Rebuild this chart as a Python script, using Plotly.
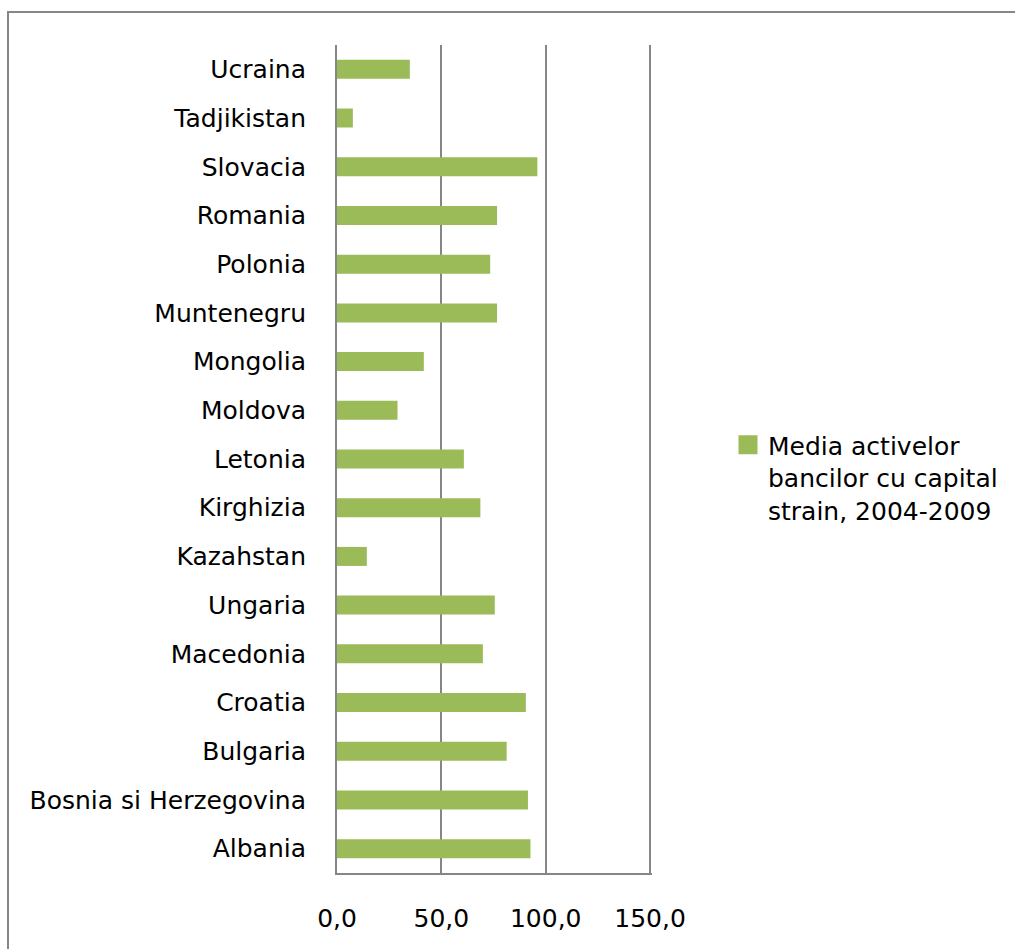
import plotly.graph_objects as go

categories = ["Albania", "Bosnia si Herzegovina", "Bulgaria", "Croatia", "Macedonia",
              "Ungaria", "Kazahstan", "Kirghizia", "Letonia", "Moldova", "Mongolia",
              "Muntenegru", "Polonia", "Romania", "Slovacia", "Tadjikistan", "Ucraina"]
values = [92.7, 91.5, 81.3, 90.5, 69.9, 75.6, 14.3, 68.7, 60.8, 29.0, 41.6,
          76.7, 73.4, 76.7, 96.0, 7.6, 34.9]
series_name = "Media activelor<br>bancilor cu capital<br>strain, 2004-2009"
x_ticks = [0, 50, 100, 150]

W, H = 1015, 949
GREEN = "#9BBB59"
GREY = "#868686"
FONT = dict(family="DejaVu Sans", size=25, color="black")

fig = go.Figure()
fig.add_trace(go.Bar(x=values, y=categories, orientation="h",
                     marker=dict(color=GREEN, line=dict(width=0)),
                     showlegend=False, name=series_name))
fig.add_trace(go.Scatter(x=[None], y=[None], mode="markers", name=series_name,
                         marker=dict(symbol="square", size=16, color=GREEN,
                                     line=dict(color=GREEN, width=3)),
                         showlegend=True))

fig.update_layout(
    width=W, height=H,
    margin=dict(l=0, r=0, t=0, b=0),
    paper_bgcolor="white", plot_bgcolor="white",
    font=FONT,
    separators=",.",
    bargap=0.61,
    showlegend=True,
    legend=dict(x=728 / W, xanchor="left", y=1 - 422 / H, yanchor="top",
                valign="top", font=FONT, itemsizing="trace",
                bgcolor="rgba(0,0,0,0)", borderwidth=0),
    xaxis=dict(domain=[337 / W, 651.5 / W], range=[0, 150.7], tickvals=x_ticks,
               tickformat=".1f", showgrid=True, gridcolor=GREY, gridwidth=2,
               zeroline=False, showline=True, linecolor=GREY, linewidth=2,
               ticks="outside", ticklen=22, tickcolor="rgba(0,0,0,0)",
               tickfont=FONT, automargin=False, fixedrange=True),
    yaxis=dict(domain=[1 - 873 / H, 1 - 45 / H], type="category",
               categoryorder="array", categoryarray=categories,
               showgrid=False, zeroline=False, showline=True, linecolor=GREY,
               linewidth=2, ticks="outside", ticklen=24,
               tickcolor="rgba(0,0,0,0)", tickfont=FONT, automargin=False,
               fixedrange=True),
    shapes=[dict(type="rect", xref="paper", yref="paper",
                 x0=8 / W, x1=1.05, y0=-0.05, y1=1 - 12 / H,
                 line=dict(color=GREY, width=2), fillcolor="rgba(0,0,0,0)",
                 layer="below")],
)

fig.write_html("out.html")
